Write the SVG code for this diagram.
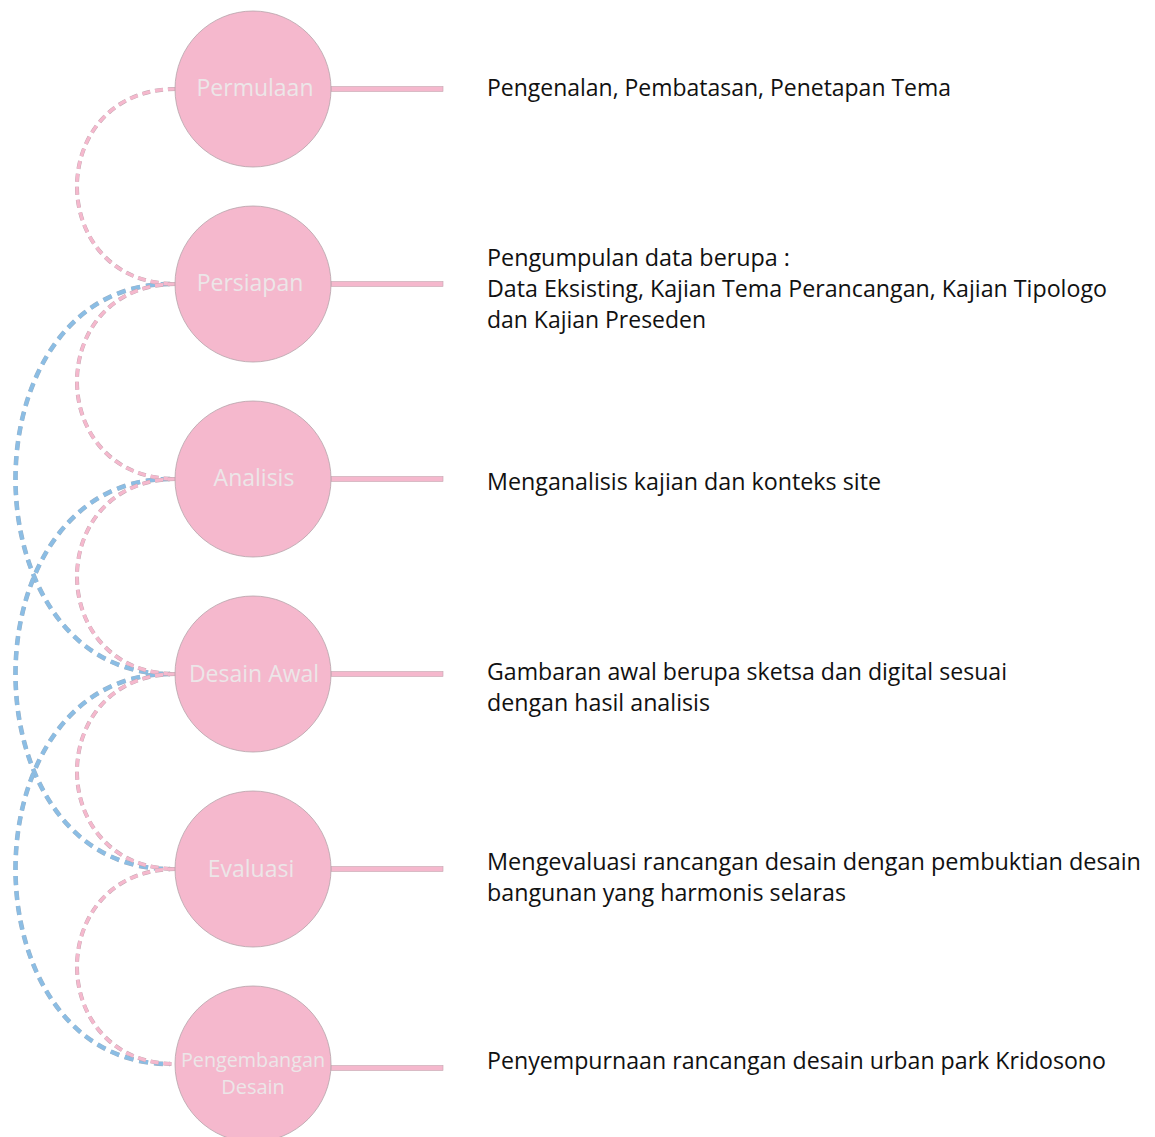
<svg xmlns="http://www.w3.org/2000/svg" width="1155" height="1137" viewBox="0 0 1155 1137">
<style>
.node circle{fill:#f5b8cd;stroke:#b5a3aa;stroke-width:0.8}
.node rect{fill:#f5b8cd;stroke:#c4a6b0;stroke-width:0.6}
.lbl{font-family:"Open Sans","Liberation Sans",sans-serif;font-size:23px;fill:#ece6e8;text-anchor:middle}
.sm{font-size:20px}
.desc{font-family:"Open Sans","Liberation Sans",sans-serif;font-size:23px;fill:#111111}
.po{fill:none;stroke:#bfa7b0;stroke-width:4;stroke-dasharray:8 5}
.pi{fill:none;stroke:#f5b8cd;stroke-width:3.2;stroke-dasharray:8 5}
.bo{fill:none;stroke:#9cb0c2;stroke-width:4.6;stroke-dasharray:9 6}
.bi{fill:none;stroke:#8bbde4;stroke-width:3.8;stroke-dasharray:9 6}
</style>
<rect width="1155" height="1137" fill="#ffffff"/>
<g id="connectors">
  <g id="blue">
    <path id="b1" class="bo" d="M170,284 C-36,284 -36,674 170,674"/>
    <path class="bi" d="M170,284 C-36,284 -36,674 170,674"/>
    <path id="b2" class="bo" d="M170,479 C-36,479 -36,869 170,869"/>
    <path class="bi" d="M170,479 C-36,479 -36,869 170,869"/>
    <path id="b3" class="bo" d="M170,674 C-36,674 -36,1064 170,1064"/>
    <path class="bi" d="M170,674 C-36,674 -36,1064 170,1064"/>
  </g>
  <g id="pink">
    <path id="p1" class="po" d="M176,89 C44,89 44,284 176,284"/>
    <path class="pi" d="M176,89 C44,89 44,284 176,284"/>
    <path id="p2" class="po" d="M176,284 C44,284 44,479 176,479"/>
    <path class="pi" d="M176,284 C44,284 44,479 176,479"/>
    <path id="p3" class="po" d="M176,479 C44,479 44,674 176,674"/>
    <path class="pi" d="M176,479 C44,479 44,674 176,674"/>
    <path id="p4" class="po" d="M176,674 C44,674 44,869 176,869"/>
    <path class="pi" d="M176,674 C44,674 44,869 176,869"/>
    <path id="p5" class="po" d="M176,869 C44,869 44,1064 176,1064"/>
    <path class="pi" d="M176,869 C44,869 44,1064 176,1064"/>
  </g>
</g>
<g id="n1" class="node">
  <rect x="331" y="86.5" width="112" height="5"/>
  <circle cx="253" cy="89" r="78"/>
  <text class="lbl" x="255" y="96">Permulaan</text>
  <text class="desc" x="487" y="96" textLength="464" lengthAdjust="spacingAndGlyphs">Pengenalan, Pembatasan, Penetapan Tema</text>
</g>
<g id="n2" class="node">
  <rect x="331" y="281.5" width="112" height="5"/>
  <circle cx="253" cy="284" r="78"/>
  <text class="lbl" x="250" y="291">Persiapan</text>
  <text class="desc" x="487" y="266" textLength="303" lengthAdjust="spacingAndGlyphs">Pengumpulan data berupa :</text>
  <text class="desc" x="487" y="297" textLength="620" lengthAdjust="spacingAndGlyphs">Data Eksisting, Kajian Tema Perancangan, Kajian Tipologo</text>
  <text class="desc" x="487" y="328" textLength="219" lengthAdjust="spacingAndGlyphs">dan Kajian Preseden</text>
</g>
<g id="n3" class="node">
  <rect x="331" y="476.5" width="112" height="5"/>
  <circle cx="253" cy="479" r="78"/>
  <text class="lbl" x="254" y="486">Analisis</text>
  <text class="desc" x="487" y="490" textLength="394" lengthAdjust="spacingAndGlyphs">Menganalisis kajian dan konteks site</text>
</g>
<g id="n4" class="node">
  <rect x="331" y="671.5" width="112" height="5"/>
  <circle cx="253" cy="674" r="78"/>
  <text class="lbl" x="254" y="682">Desain Awal</text>
  <text class="desc" x="487" y="680" textLength="520" lengthAdjust="spacingAndGlyphs">Gambaran awal berupa sketsa dan digital sesuai</text>
  <text class="desc" x="487" y="711" textLength="223" lengthAdjust="spacingAndGlyphs">dengan hasil analisis</text>
</g>
<g id="n5" class="node">
  <rect x="331" y="866.5" width="112" height="5"/>
  <circle cx="253" cy="869" r="78"/>
  <text class="lbl" x="251" y="877">Evaluasi</text>
  <text class="desc" x="487" y="870" textLength="654" lengthAdjust="spacingAndGlyphs">Mengevaluasi rancangan desain dengan pembuktian desain</text>
  <text class="desc" x="487" y="901" textLength="359" lengthAdjust="spacingAndGlyphs">bangunan yang harmonis selaras</text>
</g>
<g id="n6" class="node">
  <rect x="331" y="1065.5" width="112" height="5"/>
  <circle cx="253" cy="1064" r="78"/>
  <text class="lbl sm" x="253" y="1067" textLength="144" lengthAdjust="spacingAndGlyphs">Pengembangan</text>
  <text class="lbl sm" x="253" y="1094">Desain</text>
  <text class="desc" x="487" y="1069" textLength="619" lengthAdjust="spacingAndGlyphs">Penyempurnaan rancangan desain urban park Kridosono</text>
</g>
</svg>
